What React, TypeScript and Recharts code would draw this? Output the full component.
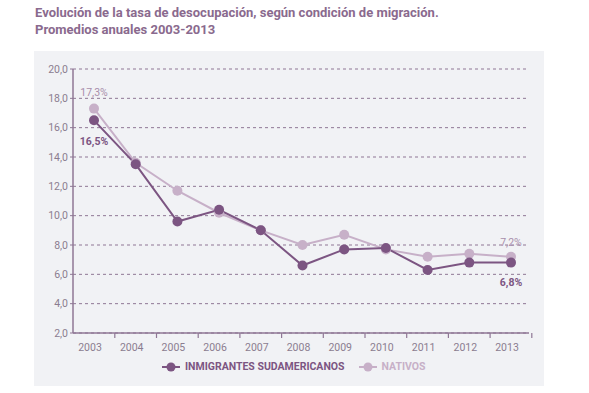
import React from "react";
import { LineChart, Line, XAxis, YAxis, CartesianGrid, LabelList } from "recharts";

const years = ["2003", "2004", "2005", "2006", "2007", "2008", "2009", "2010", "2011", "2012", "2013"];
const inmigrantes = [16.5, 13.5, 9.6, 10.4, 9.0, 6.6, 7.7, 7.8, 6.3, 6.8, 6.8];
const nativos = [17.3, 13.6, 11.7, 10.2, 9.0, 8.0, 8.7, 7.7, 7.2, 7.4, 7.2];
const yTicks = [2, 4, 6, 8, 10, 12, 14, 16, 18, 20];
const seriesNames = ["INMIGRANTES SUDAMERICANOS", "NATIVOS"];
const titleLines = [
  "Evolución de la tasa de desocupación, según condición de migración.",
  "Promedios anuales 2003-2013",
];

const data = years.map((y, i) => ({ year: y, inm: inmigrantes[i], nat: nativos[i] }));

const DARK = "#7c5582";
const LIGHT = "#c7b0c8";
const AXIS = "#8f7795";
const TEXT = "#8b7d90";
const FONT = "Roboto, 'Open Sans', sans-serif";

const fmt = (v: number) => v.toFixed(1).replace(".", ",");

const XTick = (props: any) => {
  const { x, y, payload } = props;
  return (
    <g>
      <line x1={x + 20.8} x2={x + 20.8} y1={y - 8} y2={y - 3} stroke={AXIS} strokeWidth={1.2} />
      <text x={x - 4} y={y + 10} textAnchor="middle" fill={TEXT} fontSize={10.5} fontFamily={FONT}>
        {payload.value}
      </text>
    </g>
  );
};

const makeLabel = (dark: boolean) => (props: any) => {
  const { x, y, value, index } = props;
  if (index !== 0 && index !== years.length - 1) return null;
  const dy = dark ? (index === 0 ? 25 : 23) : (index === 0 ? -13 : -11);
  return (
    <text
      x={x}
      y={y + dy}
      textAnchor="middle"
      fill={dark ? DARK : "#a88eab"}
      fontSize={10.5}
      fontWeight={dark ? 700 : 400}
      fontFamily={FONT}
    >
      {fmt(value) + "%"}
    </text>
  );
};

const LegendItem = ({ color, label }: { color: string; label: string }) => (
  <div style={{ display: "flex", alignItems: "center", marginRight: 14 }}>
    <svg width={18} height={10} style={{ marginRight: 5 }}>
      <line x1={0} x2={18} y1={5} y2={5} stroke={color} strokeWidth={2} />
      <circle cx={9} cy={5} r={4.5} fill={color} />
    </svg>
    <span style={{ color, fontWeight: 700, fontSize: 10.5, fontFamily: FONT }}>{label}</span>
  </div>
);

export default function App() {
  return (
    <div style={{ position: "absolute", left: 0, top: 0, width: 589, height: 393, background: "#fff", overflow: "hidden" }}>
      <div
        style={{
          position: "absolute",
          left: 35,
          top: 4,
          color: "#8a6a8e",
          fontFamily: FONT,
          fontWeight: 700,
          fontSize: 13,
          lineHeight: "17px",
        }}
      >
        {titleLines.map((t) => (
          <div key={t}>{t}</div>
        ))}
      </div>
      <div style={{ position: "absolute", left: 34, top: 51, width: 510, height: 335, background: "#f1f2f5" }} />
      <div style={{ position: "absolute", left: 0, top: 0 }}>
        <LineChart width={589} height={393} data={data} margin={{ top: 69, right: 60, bottom: 30, left: 33 }}>
          <CartesianGrid vertical={false} stroke={AXIS} strokeDasharray="3 3" strokeWidth={1} />
          <XAxis
            dataKey="year"
            padding={{ left: 21, right: 18 }}
            axisLine={{ stroke: AXIS, strokeWidth: 1.5 }}
            tickLine={false}
            tick={<XTick />}
            interval={0}
            height={30}
          />
          <YAxis
            domain={[2, 20]}
            ticks={yTicks}
            tickFormatter={fmt}
            axisLine={{ stroke: AXIS, strokeWidth: 1.5 }}
            tickLine={{ stroke: AXIS }}
            tickSize={3}
            width={40}
            tick={{ fill: TEXT, fontSize: 10.5, fontFamily: FONT }}
          />
          <Line
            dataKey="nat"
            stroke={LIGHT}
            strokeWidth={2}
            dot={{ r: 5, fill: LIGHT, stroke: LIGHT, strokeWidth: 0 }}
            isAnimationActive={false}
          >
            <LabelList dataKey="nat" content={makeLabel(false)} />
          </Line>
          <Line
            dataKey="inm"
            stroke={DARK}
            strokeWidth={2}
            dot={{ r: 5, fill: DARK, stroke: DARK, strokeWidth: 0 }}
            isAnimationActive={false}
          >
            <LabelList dataKey="inm" content={makeLabel(true)} />
          </Line>
        </LineChart>
      </div>
      <div style={{ position: "absolute", left: 162, top: 360, display: "flex" }}>
        <LegendItem color={DARK} label={seriesNames[0]} />
        <LegendItem color={LIGHT} label={seriesNames[1]} />
      </div>
    </div>
  );
}
